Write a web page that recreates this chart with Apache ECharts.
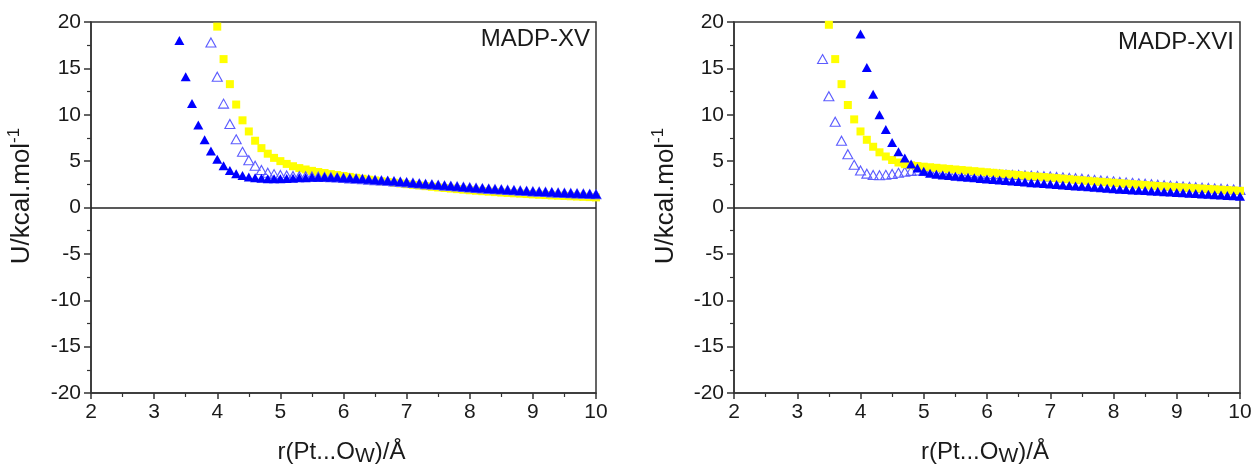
<!DOCTYPE html>
<html>
<head>
<meta charset="utf-8">
<script src="https://cdn.jsdelivr.net/npm/echarts@6/dist/echarts.min.js"></script>
<style>
html,body{margin:0;padding:0;background:#fff;}
#c{width:1255px;height:468px;}
</style>
</head>
<body>
<div id="c"></div>
<script>
// r(Pt...Ow) / Å sample positions (all series end at 10.0)
const r = [3.4,3.5,3.6,3.7,3.8,3.9,4.0,4.1,4.2,4.3,4.4,4.5,4.6,4.7,4.8,4.9,5.0,5.1,5.2,5.3,5.4,5.5,5.6,5.7,5.8,5.9,6.0,6.1,6.2,6.3,6.4,6.5,6.6,6.7,6.8,6.9,7.0,7.1,7.2,7.3,7.4,7.5,7.6,7.7,7.8,7.9,8.0,8.1,8.2,8.3,8.4,8.5,8.6,8.7,8.8,8.9,9.0,9.1,9.2,9.3,9.4,9.5,9.6,9.7,9.8,9.9,10.0];

const panelTitles = ['MADP-XV', 'MADP-XVI'];

// MADP-XV
const xvFilled = [18.0,14.1,11.2,8.9,7.3,6.1,5.2,4.5,4.0,3.65,3.45,3.3,3.2,3.15,3.1,3.1,3.1,3.12,3.15,3.2,3.22,3.25,3.27,3.28,3.27,3.25,3.22,3.18,3.14,3.1,3.05,3.0,2.95,2.9,2.85,2.8,2.74,2.68,2.62,2.56,2.5,2.45,2.4,2.34,2.29,2.24,2.19,2.14,2.09,2.04,2.0,1.96,1.92,1.88,1.84,1.8,1.76,1.73,1.7,1.66,1.63,1.6,1.57,1.54,1.51,1.48,1.45];
const xvHollow = [17.8,14.1,11.2,9.0,7.35,6.0,5.1,4.5,4.05,3.75,3.6,3.5,3.45,3.4,3.38,3.36,3.35,3.33,3.3,3.27,3.23,3.19,3.14,3.1,3.05,3.0,2.95,2.9,2.85,2.8,2.75,2.7,2.64,2.58,2.52,2.47,2.42,2.36,2.31,2.26,2.21,2.16,2.11,2.06,2.01,1.97,1.93,1.89,1.85,1.81,1.77,1.73,1.7,1.67,1.63,1.6,1.57,1.54,1.51,1.48,1.45,1.42];
const xvSquare = [19.5,16.0,13.3,11.1,9.4,8.2,7.2,6.4,5.8,5.35,5.0,4.7,4.45,4.25,4.1,3.95,3.83,3.72,3.6,3.5,3.4,3.3,3.2,3.1,3.0,2.92,2.83,2.75,2.67,2.59,2.51,2.44,2.37,2.3,2.23,2.16,2.1,2.04,1.98,1.92,1.86,1.81,1.76,1.71,1.66,1.61,1.57,1.53,1.49,1.45,1.41,1.37,1.34,1.3,1.27,1.24,1.21,1.18,1.15,1.12,1.09];

// MADP-XVI
const xviHollow = [16.0,12.0,9.25,7.2,5.75,4.6,4.0,3.65,3.5,3.48,3.52,3.62,3.74,3.85,3.95,3.98,3.95,3.92,3.88,3.84,3.8,3.77,3.74,3.71,3.68,3.65,3.62,3.6,3.58,3.55,3.52,3.5,3.47,3.44,3.41,3.38,3.35,3.3,3.25,3.2,3.15,3.1,3.04,2.98,2.92,2.87,2.82,2.76,2.71,2.66,2.61,2.56,2.51,2.46,2.41,2.36,2.31,2.27,2.23,2.18,2.14,2.1,2.06,2.02,1.98,1.94,1.9];
const xviSquare = [19.7,16.0,13.3,11.05,9.5,8.2,7.3,6.55,5.95,5.5,5.12,4.85,4.67,4.55,4.47,4.4,4.34,4.28,4.22,4.16,4.1,4.04,3.98,3.92,3.86,3.8,3.74,3.68,3.62,3.56,3.5,3.44,3.38,3.33,3.28,3.23,3.17,3.11,3.05,2.99,2.94,2.88,2.82,2.77,2.72,2.67,2.62,2.57,2.52,2.47,2.42,2.37,2.32,2.28,2.24,2.2,2.16,2.12,2.08,2.04,2.0,1.96,1.92,1.88,1.84,1.8];
const xviFilled = [18.7,15.1,12.2,10.0,8.4,7.0,6.0,5.35,4.7,4.25,3.9,3.7,3.58,3.5,3.44,3.38,3.32,3.26,3.2,3.14,3.08,3.02,2.96,2.9,2.85,2.8,2.74,2.68,2.63,2.58,2.53,2.48,2.43,2.38,2.33,2.28,2.23,2.18,2.13,2.08,2.03,1.98,1.94,1.9,1.86,1.82,1.78,1.74,1.7,1.66,1.62,1.58,1.54,1.5,1.46,1.42,1.38,1.34,1.3,1.26,1.22];

const xTicks = [2,3,4,5,6,7,8,9,10];
const yTicks = [-20,-15,-10,-5,0,5,10,15,20];

function pts(vals){
  const off = r.length - vals.length;
  return vals.map((v,i)=>[r[off+i], v]);
}

const FONT = 'Liberation Sans, Arial, sans-serif';
const AX = '#333';
const TXT = '#1a1a1a';

const grids = [
  {left:91, top:22, width:505, height:371},
  {left:734, top:22, width:506, height:371}
];

function xAxisCfg(gi){
  return {
    type:'value', gridIndex:gi, min:xTicks[0], max:xTicks[xTicks.length-1], interval:1,
    position:'bottom',
    axisLine:{onZero:false, lineStyle:{color:AX, width:1.5}},
    axisTick:{show:true, inside:false, length:6, lineStyle:{color:AX, width:1.5}},
    minorTick:{show:true, splitNumber:2, length:4, lineStyle:{color:AX, width:1.2}},
    splitLine:{show:false},
    axisLabel:{fontFamily:FONT, fontSize:21, color:TXT, margin:9}
  };
}
function yAxisCfg(gi){
  return {
    type:'value', gridIndex:gi, min:yTicks[0], max:yTicks[yTicks.length-1], interval:5,
    axisLine:{onZero:false, lineStyle:{color:AX, width:1.5}},
    axisTick:{show:true, inside:false, length:7, lineStyle:{color:AX, width:1.5}},
    minorTick:{show:true, splitNumber:2, length:4, lineStyle:{color:AX, width:1.2}},
    splitLine:{show:false},
    axisLabel:{fontFamily:FONT, fontSize:21, color:TXT, margin:10}
  };
}

const FILLED = '#0000ff';
const HOLLOW = '#5c5cff';
const YELLOW = '#ffff00';

function panelSeries(gi, filled, hollow, square, order){
  const s = {
    square:{type:'scatter', xAxisIndex:gi, yAxisIndex:gi, data:pts(square), symbol:'rect', symbolSize:8,
      itemStyle:{color:YELLOW, opacity:1}},
    hollow:{type:'scatter', xAxisIndex:gi, yAxisIndex:gi, data:pts(hollow), symbol:'triangle', symbolSize:[10,9],
      itemStyle:{color:'rgba(255,255,255,0)', borderColor:HOLLOW, borderWidth:1.1, opacity:1}},
    filled:{type:'scatter', xAxisIndex:gi, yAxisIndex:gi, data:pts(filled), symbol:'triangle', symbolSize:[10,9],
      itemStyle:{color:FILLED, opacity:1}}
  };
  const arr = order.map(k=>s[k]);
  arr[0].markLine = {silent:true, symbol:'none', label:{show:false}, animation:false,
    lineStyle:{color:'#222', width:1.5, type:'solid'}, data:[{yAxis:0}]};
  return arr;
}

const xRich = {
  m:{fontFamily:FONT, fontSize:24, fill:TXT, lineHeight:30},
  s:{fontFamily:FONT, fontSize:21, fill:TXT, verticalAlign:'bottom'}
};
const yRich = {
  m:{fontFamily:FONT, fontSize:26, fill:TXT, lineHeight:32},
  s:{fontFamily:FONT, fontSize:17, fill:TXT, verticalAlign:'top'}
};

function titleGraphics(gi, yx){
  const g = grids[gi];
  return [
    {type:'text', x:g.left + g.width - 6, y: gi===0 ? 39 : 42, z:10,
      style:{text:panelTitles[gi], font:'24px '+FONT, fill:TXT, align:'right', verticalAlign:'middle'}},
    {type:'text', x:g.left + g.width/2 - 2, y:452, z:10,
      style:{text:'{m|r(Pt...O}{s|W}{m|)/Å}', rich:xRich, align:'center', verticalAlign:'middle'}},
    {type:'text', x:yx, y:196, rotation:Math.PI/2, z:10,
      style:{text:'{m|U/kcal.mol}{s|-1}', rich:yRich, align:'center', verticalAlign:'middle'}}
  ];
}

const chart = echarts.init(document.getElementById('c'), null, {renderer:'canvas'});
chart.setOption({
  animation:false,
  backgroundColor:'#fff',
  grid: grids.map(g=>Object.assign({show:true, borderColor:AX, borderWidth:1.5, backgroundColor:'transparent'}, g)),
  xAxis:[xAxisCfg(0), xAxisCfg(1)],
  yAxis:[yAxisCfg(0), yAxisCfg(1)],
  series:[
    ...panelSeries(0, xvFilled, xvHollow, xvSquare, ['square','hollow','filled']),
    ...panelSeries(1, xviFilled, xviHollow, xviSquare, ['hollow','square','filled'])
  ],
  graphic:[...titleGraphics(0, 22), ...titleGraphics(1, 666)]
});
</script>
</body>
</html>
